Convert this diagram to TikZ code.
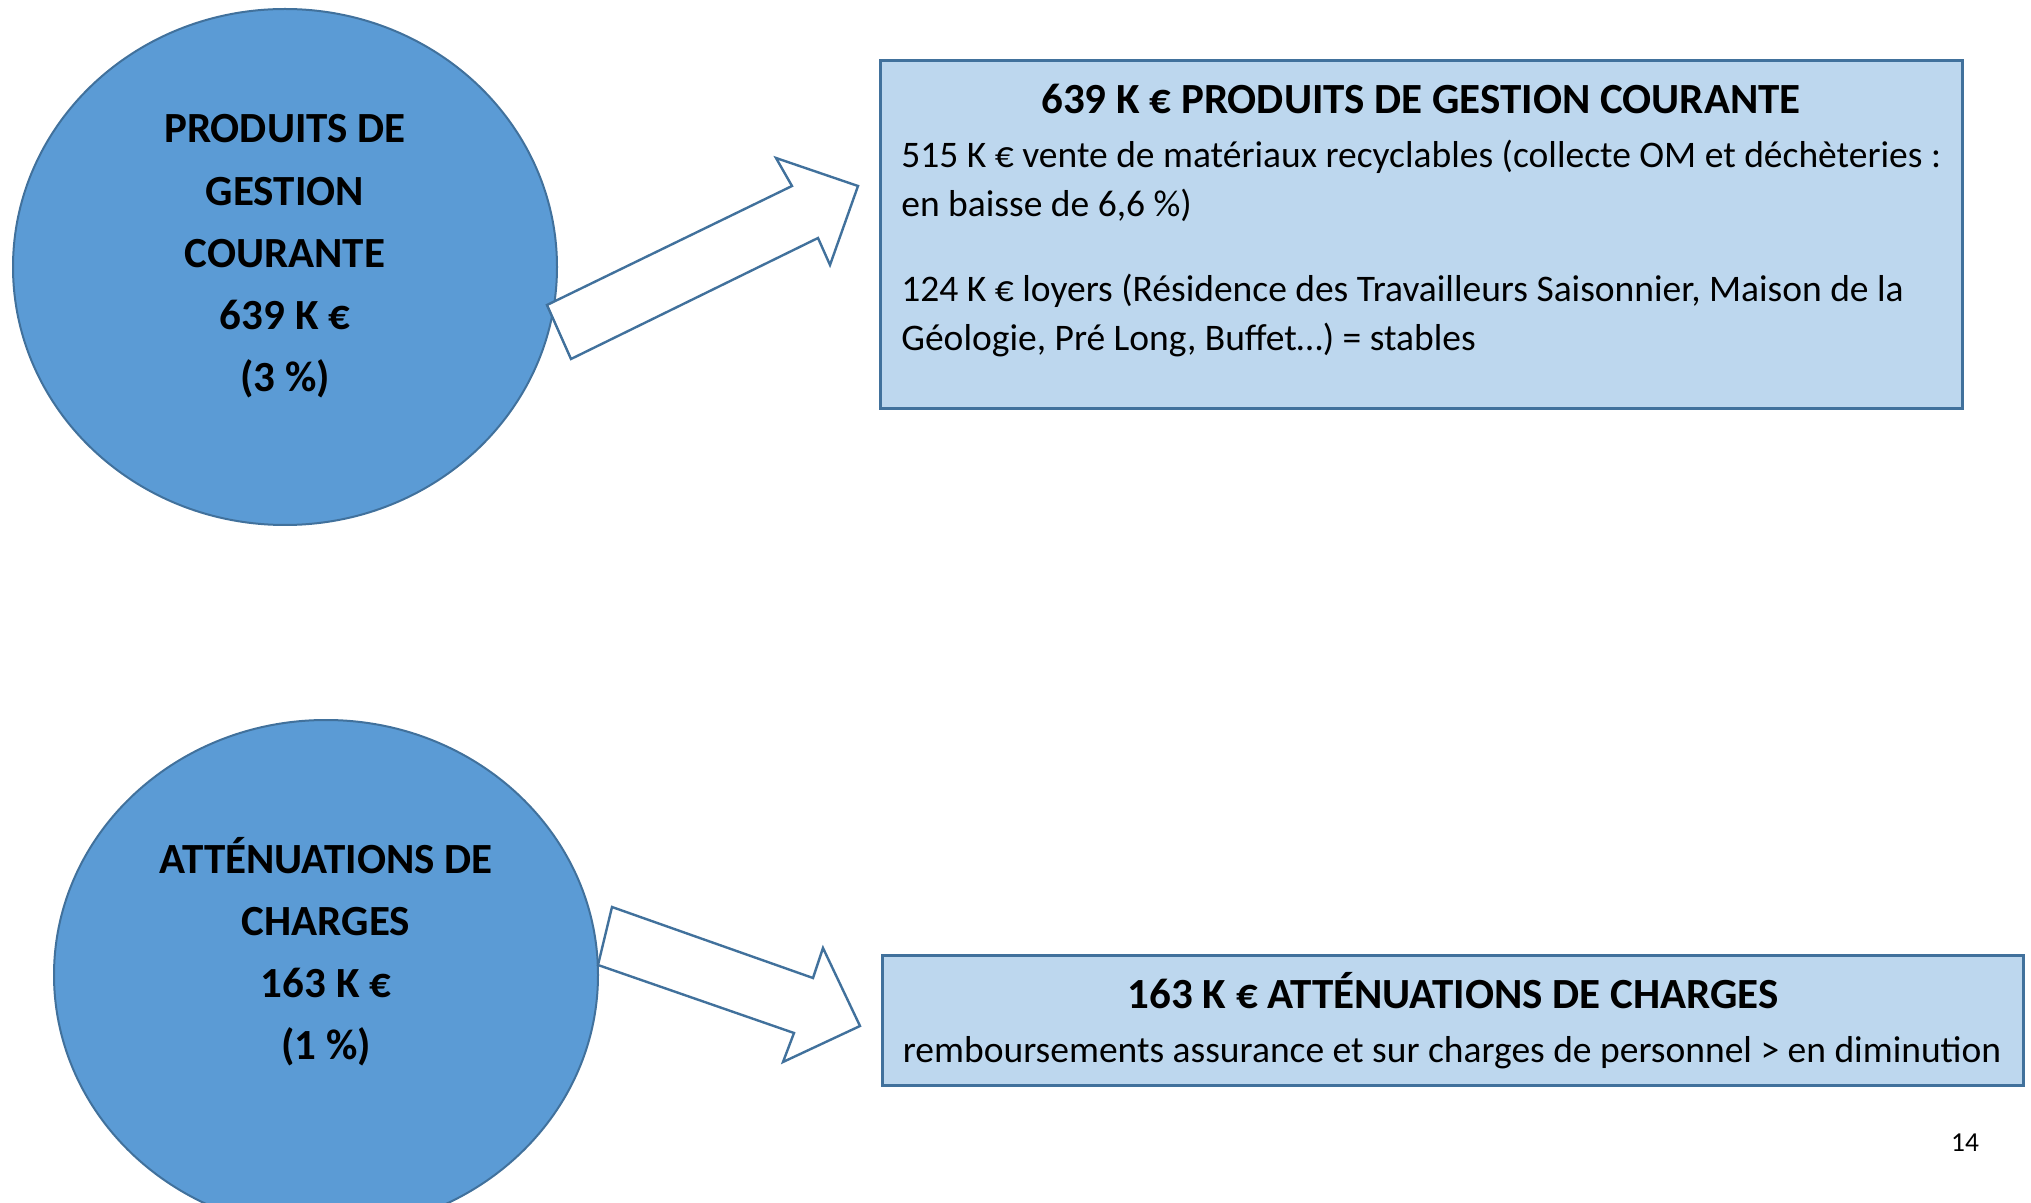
\documentclass[tikz,border=0pt]{standalone}
\usepackage{fontspec}
\setmainfont{Carlito}
\usetikzlibrary{shapes.geometric}
\begin{document}
\begin{tikzpicture}[x=0.5pt,y=-0.5pt]
  \definecolor{bubblefill}{HTML}{5B9BD5}
  \definecolor{shapeline}{HTML}{41719C}
  \definecolor{boxfill}{HTML}{BDD7EE}
  \tikzset{
    bubble/.style={draw=shapeline, line width=1pt, fill=bubblefill, shape=ellipse, inner sep=0pt},
    infobox/.style={draw=shapeline, line width=1.5pt, fill=boxfill, shape=rectangle, inner sep=0pt},
    blockarrow/.style={draw=shapeline, line width=1.2pt, fill=white, line join=miter},
    bubbletext/.style={anchor=base, inner sep=0pt, font=\fontsize{21.5}{25}\selectfont\bfseries},
    boxtitle/.style={anchor=base, inner sep=0pt, font=\fontsize{21.5}{25}\selectfont\bfseries},
    boxtext/.style={anchor=base west, inner sep=0pt, font=\fontsize{18.75}{22}\selectfont},
  }
  \useasboundingbox (0,0) rectangle (2031,1203);
  % the two bubbles
  \node[bubble, minimum width=272pt, minimum height=258pt] (pgcBubble) at (285,267) {};
  \node[bubble, minimum width=272pt, minimum height=255pt] (attBubble) at (326,975) {};
  \foreach \txt [count=\i] in {PRODUITS DE, GESTION, COURANTE, 639 K €, (3 \%)}
    \node[bubbletext] (pgcLine\i) at (285,{143+62.1*(\i-1)}) {\txt};
  \foreach \txt [count=\i] in {ATTÉNUATIONS DE, CHARGES, 163 K €, (1 \%)}
    \node[bubbletext] (attLine\i) at (326,{873.5+62*(\i-1)}) {\txt};
  % block arrows
  \draw[blockarrow] (547,305) -- (792,186) -- (776,158) -- (858,186) -- (830,265) -- (818,238) -- (571,359) -- cycle;
  \draw[blockarrow] (612,907) -- (813,978) -- (823,948) -- (860,1026) -- (783,1062) -- (794,1033) -- (598,965) -- cycle;
  % the two boxes
  \node[infobox, minimum width=541pt, minimum height=174pt] (pgcBox) at (1421,235) {};
  \node[infobox, minimum width=570.5pt, minimum height=65pt] (attBox) at (1452.5,1020) {};
  \node[boxtitle] (pgcTitle) at (1421,114) {639 K € PRODUITS DE GESTION COURANTE};
  \node[boxtext] (pgcVente1) at (901,168) {515 K € vente de matériaux recyclables (collecte OM et déchèteries :};
  \node[boxtext] (pgcVente2) at (901,217) {en baisse de 6,6 \%)};
  \node[boxtext] (pgcLoyer1) at (901,302) {124 K € loyers (Résidence des Travailleurs Saisonnier, Maison de la};
  \node[boxtext] (pgcLoyer2) at (901,351) {Géologie, Pré Long, Buffet…) = stables};
  \node[boxtitle] (attTitle) at (1453,1008) {163 K € ATTÉNUATIONS DE CHARGES};
  \node[boxtext, anchor=base] (attText) at (1452,1062) {remboursements assurance et sur charges de personnel > en diminution};
  % page number
  \node[anchor=base, inner sep=0pt, font=\fontsize{13.7}{16}\selectfont] (pageNum) at (1965,1151) {14};
\end{tikzpicture}
\end{document}
